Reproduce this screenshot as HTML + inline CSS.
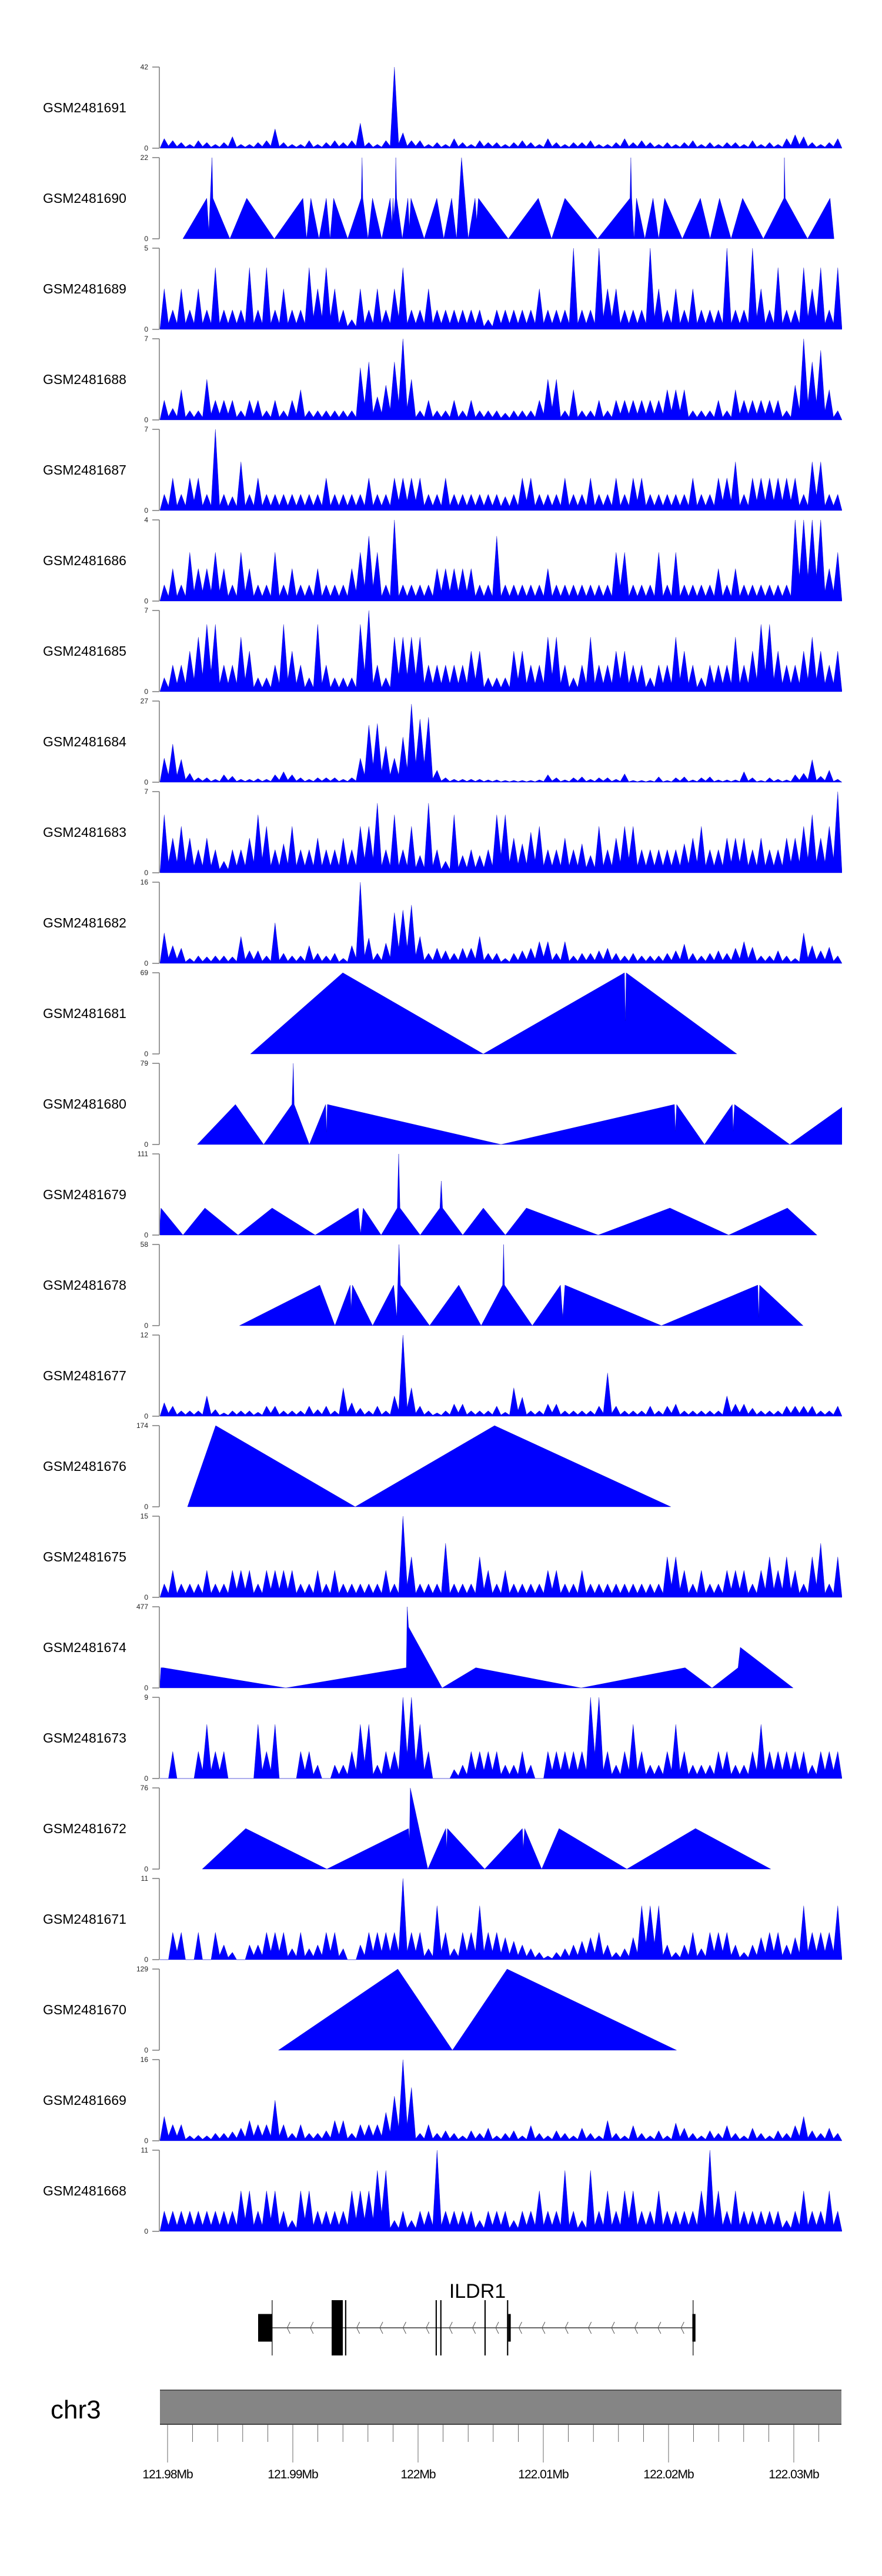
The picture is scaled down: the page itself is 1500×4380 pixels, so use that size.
<!DOCTYPE html>
<html><head><meta charset="utf-8"><title>ILDR1 coverage tracks</title>
<style>
html,body{margin:0;padding:0;background:#fff;}
svg{display:block;font-family:"Liberation Sans",Arial,sans-serif;}
</style></head>
<body>
<svg id="chart" xmlns="http://www.w3.org/2000/svg" width="1500" height="4380" viewBox="0 0 1500 4380">
<rect x="0" y="0" width="1500" height="4380" fill="#fff"/>
<g id="tracks"></g>
<g id="gene"></g>
<g id="ideo"></g>
</svg>
<script>
// ---- genomic domain (kb relative to 121.98 Mb) ----
const domainKb = [-0.61, 53.85];
const nBins = 80;

// ---- sample names & y maxima ----
const sampleNames = ["GSM2481691","GSM2481690","GSM2481689","GSM2481688","GSM2481687","GSM2481686","GSM2481685","GSM2481684","GSM2481683","GSM2481682","GSM2481681","GSM2481680","GSM2481679","GSM2481678","GSM2481677","GSM2481676","GSM2481675","GSM2481674","GSM2481673","GSM2481672","GSM2481671","GSM2481670","GSM2481669","GSM2481668"];
const yMax = [42,22,5,7,7,4,7,27,7,16,69,79,111,58,12,174,15,477,9,76,11,129,16,11];

// ---- binned coverage (80 bins) ----
const bins691 = [5,4,3,2,4,3,2,3,6,2, 2,3,4,10,3,2,2,4,2,3, 4,3,4,13,3,2,4,42,8,4, 4,2,3,2,5,3,2,4,3,3, 2,3,4,3,2,5,3,2,3,3, 4,2,2,3,5,3,4,3,2,3, 2,3,4,2,3,2,3,3,2,4, 2,3,2,5,7,6,3,2,3,5];
const bins689 = [2.5,1.2,2.5,1.2,2.5,1.2,3.8,1.2,1.2,1.2, 3.8,1.2,3.8,1.2,2.5,1.2,1.2,3.8,2.5,3.8, 2.5,1.2,0.6,2.5,1.2,2.5,1.2,2.5,3.8,1.2, 1.2,2.5,1.2,1.2,1.2,1.2,1.2,1.2,0.6,1.2, 1.2,1.2,1.2,1.2,2.5,1.2,1.2,1.2,5,1.2, 1.2,5,2.5,2.5,1.2,1.2,1.2,5,2.5,1.2, 2.5,1.2,2.5,1.2,1.2,1.2,5,1.2,1.2,5, 2.5,1.2,3.8,1.2,1.2,3.8,2.5,3.8,1.2,3.8];
const bins688 = [1.7,1,2.6,0.8,0.8,3.5,1.7,1.7,1.7,0.8, 1.7,1.7,0.8,1.7,0.8,1.7,2.6,0.8,0.8,0.8, 0.8,0.8,0.8,4.5,5,2,3,5,7,3.5, 0.8,1.7,0.8,0.8,1.7,0.8,1.7,0.8,0.8,0.8, 0.6,0.8,0.8,0.8,1.7,3.5,3.5,0.8,2.6,0.8, 0.8,1.7,0.8,1.7,1.7,1.7,1.7,1.7,1.7,2.6, 2.6,2.6,0.8,0.8,0.8,1.7,0.8,2.6,1.7,1.7, 1.7,1.7,1.7,0.8,3,7,5,6,2.6,0.8];
const bins687 = [1.4,2.8,1.4,2.8,2.8,1.4,7,1.4,1.2,4.2, 1.4,2.8,1.4,1.4,1.4,1.4,1.4,1.4,1.4,2.8, 1.4,1.4,1.4,1.4,2.8,1.4,1.4,2.8,2.8,2.8, 2.8,1.4,1.4,2.8,1.4,1.4,1.4,1.4,1.4,1.4, 1.2,1.4,2.8,2.8,1.4,1.4,1.4,2.8,1.4,1.4, 2.8,1.4,1.4,2.8,1.4,2.8,2.8,1.4,1.4,1.4, 1.4,1.4,2.8,1.4,1.4,2.8,2.8,4.2,1.4,2.8, 2.8,2.8,2.8,2.8,2.8,1.4,4.2,4.2,1.4,1.4];
const bins686 = [0.8,1.6,0.8,2.4,1.6,1.6,2.4,1.6,0.8,2.4, 1.6,0.8,0.8,2.4,0.8,1.6,0.8,0.8,1.6,0.8, 0.8,0.8,1.6,2.4,3.2,2.4,0.8,4,0.8,0.8, 0.8,0.8,1.6,1.6,1.6,1.6,1.6,0.8,0.8,3.2, 0.8,0.8,0.8,0.8,0.8,1.6,0.8,0.8,0.8,0.8, 0.8,0.8,0.8,2.4,2.4,0.8,0.8,0.8,2.4,0.8, 2.4,0.8,0.8,0.8,0.8,1.6,0.8,1.6,0.8,0.8, 0.8,0.8,0.8,0.8,4,4,4,4,1.6,2.4];
const bins685 = [1.2,2.3,2.3,3.5,4.7,5.8,5.8,2.3,2.3,4.7, 3.5,1.2,1.2,2.3,5.8,3.5,2.3,1.2,5.8,2.3, 1.2,1.2,1.2,5.8,7,2.3,1.2,4.7,4.7,4.7, 4.7,2.3,2.3,2.3,2.3,2.3,3.5,3.5,1.2,1.2, 1.2,3.5,3.5,2.3,2.3,4.7,4.7,2.3,1.2,2.3, 4.7,2.3,2.3,3.5,3.5,2.3,2.3,1.2,2.3,2.3, 4.7,3.5,2.3,1.2,2.3,2.3,2.3,4.7,2.3,3.5, 5.8,5.8,3.5,2.3,2.3,3.5,4.7,3.5,2.3,3.5];
const bins684 = [8,12.7,7.6,3,1.5,1.5,1,2.5,2,1, 1,1.2,1,2.5,3.5,2.5,1.5,1,1.5,1.5, 1.5,1,1.5,8,19,19.5,12,8,15,26, 21,21.6,4,1.5,1,1,1,1,0.8,0.8, 0.6,0.6,0.6,0.6,0.8,2.5,1.5,0.8,1.5,1.8, 1,1.5,1.5,1,2.8,0.6,0.6,0.6,1.8,0.6, 1.5,1.8,0.8,1.5,1.8,0.8,0.8,0.8,3.5,1.5, 0.6,1.5,1,0.8,2.5,3,7.5,2,4,1];
const bins683 = [5,3,4,3,2,3,2,1,2,2, 3,5,4,2,2.5,4,2,2,3,2, 2,3,2,4,4,6,2,5,2,4, 1.5,6,2,1,5,1.5,2,1.5,2,5, 5,3,2.5,3.5,4,2,2,3,2,2.5, 1.5,4,2,3,4,4,2,2,2,2, 2,2.5,3,4,2,2,3,3,3,2, 3,2,2,3,3,4,5,3,4,7];
const bins682 = [6,3.5,3,1,1.5,1.3,1.5,1.5,1.3,5.3, 2.5,2.5,1.5,8,2,1.5,1.5,3.5,2,1.5, 2,1,3.5,16,5,2,4,10,10.5,11.5, 5.3,2,3,2.5,2,3,3,5.3,2,2, 1,2,2.5,3,4.3,4.3,2,4.3,1.5,2, 2,2.5,3,2,1.5,2,1.5,1.5,1.5,2, 2.5,3.8,2,1.5,2,2.5,2,3,4.3,3.2, 1.5,1.5,2.5,1.5,1,6,3.5,2.5,3.2,1.5];
const bins677 = [2,1.5,0.8,0.8,0.8,3,1,0.5,0.8,0.8, 0.8,0.6,1.5,1.5,0.8,0.8,0.8,1.5,1,1.5, 0.8,4.2,2,1.2,0.8,1.5,0.8,3,12,4.2, 1.5,0.8,0.5,0.8,1.8,1.8,0.8,0.8,0.8,1.5, 0.6,4.2,2.8,0.8,0.8,1.8,1.8,0.8,0.8,0.8, 0.8,1.5,6.4,1.5,0.8,0.8,0.8,1.5,0.8,1.5, 1.8,0.8,0.8,0.8,0.8,0.8,3,1.8,1.8,1.2, 0.8,0.8,0.8,1.5,1.5,1.5,1.5,0.8,0.8,1.5];
const bins675 = [2.5,5,2.5,2.5,2.5,5,2.5,2.5,5,5, 5,2.5,5,5,5,5,2.5,2.5,5,2.5, 5,2.5,2.5,2.5,2.5,2.5,5,2.5,15,7.5, 2.5,2.5,2.5,10,2.5,2.5,2.5,7.5,5,2.5, 5,2.5,2.5,2.5,2.5,5,5,2.5,2.5,5, 2.5,2.5,2.5,2.5,2.5,2.5,2.5,2.5,2.5,7.5, 7.5,5,2.5,5,2.5,2.5,5,5,5,2.5, 5,7.5,5,7.5,5,2.5,7.5,10,2.5,7.5];
const bins673 = [0,3,0,0,3,6,3,3,0,0, 0,6,3,6,0,0,3,3,1.5,0, 1.5,1.5,3,6,6,1.5,3,3,9,9, 6,3,0,0,1,1.5,3,3,3,3, 1.5,1.5,3,1.5,0,3,3,3,3,3, 9,9,3,1.5,3,6,3,1.5,1.5,3, 6,3,1.5,1.5,1.5,3,3,1.5,1.5,3, 6,3,3,3,3,3,1.5,3,3,3];
const bins671 = [0,3.7,3.7,0,3.7,0,3.7,2,1,0, 2,2,3.7,3.7,3.7,1.5,3.7,1.5,2,3.7, 3.7,1.5,0,2,3.7,3.7,3.7,3.7,11,3.7, 3.7,1.5,7.3,3.7,1.5,3.7,3.7,7.3,3.7,3.7, 3,2.5,2,1.5,1,0.5,1,1.5,2,2.5, 3,3.7,2,1,1.5,3,7.3,7.3,7.3,2, 1,2,3.7,1.5,3.7,3.7,3.7,2,1,2, 3,3.7,3.7,2,3,7.3,3.7,3.7,3.7,7.3];
const bins669 = [4.8,3.2,3.2,1,1.1,1,1.5,1.5,1.8,2.5, 4,3.2,3.2,8,3.2,1.5,3.2,1.5,1.5,2, 4,4,1.5,3.2,3.2,3.2,5.6,8.8,16,10.5, 1.5,3.2,1.5,2,1.5,1,2,1.5,2.5,1, 1.5,2,1,3,1.5,1,2,1.5,1,2.5, 1.5,1,4,1.5,1,3,1.5,1,2,1, 3.5,2.5,1.5,1,2,1.5,3,1.5,1,2.5, 1.5,1,2,1.5,3,4.8,2,1.5,2.5,1.5];
const bins668 = [2.75,2.75,2.75,2.75,2.75,2.75,2.75,2.75,2.75,5.5, 5.5,2.75,5.5,5.5,2.75,1.5,5.5,5.5,2.75,2.75, 2.75,2.75,5.5,5.5,5.5,8.25,8.25,1.5,2.75,1.5, 2.75,2.75,11,2.75,2.75,2.75,2.75,1.5,2.75,2.75, 2.75,1.5,2.75,2.75,5.5,2.75,2.75,8.25,2.75,1.5, 8.25,2.75,5.5,2.75,5.5,5.5,2.75,2.75,5.5,2.75, 2.75,2.75,2.75,5.5,11,5.5,2.75,5.5,2.75,2.75, 2.75,2.75,2.75,1.5,2.75,5.5,2.75,2.75,5.5,2.75];

// ---- vertex coverage (positions in kb, values) ----
const pos690 = [1.22,3.13,3.29,3.55,3.62,4.97,6.32,8.52,10.81,11.1,11.44,12.09,12.67,12.97,13.26,14.38,15.46,15.53,15.59,16,16.36,17.1,17.77,17.91,18,18.06,18.18,18.22,18.29,18.74,19.19,19.3,19.43,20.49,21.5,22.05,22.68,23.07,23.47,24.01,24.55,24.68,24.82,27.2,29.6,30.66,31.73,34.34,36.92,36.99,37.06,37.24,37.44,38.11,38.76,39.21,39.69,41.1,42.54,43.32,44.07,44.99,45.91,47.57,49.21,49.25,49.32,51.1,52.89,53.21];
const val690 = [0,11,2,22,11,0,11,0,11,0,11,0,11,0,11,0,11,22,11,0,11,0,11,4,11,6,11,22,11,0,11,3,11,0,11,0,11,0,22,0,11,5,11,0,11,0,11,0,11,22,11,0,11,0,11,0,11,0,11,0,11,0,11,0,11,22,11,0,11,0];
const pos681 = [6.62,13.99,25.21,36.48,36.55,36.62,45.45];
const val681 = [0,69,0,69,28,69,0];
const pos680 = [2.37,5.42,7.67,9.93,10.04,10.11,11.32,12.62,12.69,12.76,26.62,40.47,40.54,40.65,42.87,45.09,45.16,45.27,49.68,54.15];
const val680 = [0,39,0,39,79,39,0,39,12,39,0,39,13,39,0,39,13,39,0,39];
const pos679 = [-0.67,-0.53,1.23,2.98,5.63,8.35,11.79,15.23,15.41,15.62,17.05,18.34,18.45,18.56,20.17,21.74,21.85,21.96,23.57,25.21,26.97,28.65,34.38,40.11,44.8,49.49,51.85];
const val679 = [0,37,0,37,0,37,0,37,2,37,0,37,111,37,0,37,74,37,0,37,0,37,0,37,0,37,0];
const pos678 = [5.74,12.15,13.36,14.58,14.65,14.76,16.37,18.05,18.3,18.48,18.59,20.92,23.25,25.04,26.75,26.83,26.9,29.12,31.37,31.55,31.73,39.43,47.12,47.2,47.27,50.74];
const val678 = [0,29,0,29,12,29,0,29,6,58,29,0,29,0,29,58,29,0,29,6,29,0,29,6,29,0];
const pos676 = [1.59,3.84,14.98,26.11,40.18];
const val676 = [0,174,0,174,0];
const pos674 = [-0.63,-0.53,-0.35,9.43,19.06,19.13,19.24,21.92,24.61,33.02,41.32,43.47,45.55,45.73,49.95];
const val674 = [0,119,119,0,119,477,358,0,119,0,119,0,119,239,0];
const pos672 = [2.77,6.24,12.72,19.24,19.31,19.38,20.78,22.21,22.28,22.35,25.32,28.33,28.4,28.51,29.87,31.26,36.67,42.15,48.16];
const val672 = [0,38,0,38,27,76,0,38,19,38,0,38,19,38,0,38,0,38,0];
const pos670 = [8.85,18.38,22.74,27.11,40.64];
const val670 = [0,129,0,129,0];

// ---- per-track data lookup ----
const trackBins = {0:bins691,2:bins689,3:bins688,4:bins687,5:bins686,6:bins685,7:bins684,8:bins683,9:bins682,14:bins677,16:bins675,18:bins673,20:bins671,22:bins669,23:bins668};
const trackPos = {1:pos690,10:pos681,11:pos680,12:pos679,13:pos678,15:pos676,17:pos674,19:pos672,21:pos670};
const trackVal = {1:val690,10:val681,11:val680,12:val679,13:val678,15:val676,17:val674,19:val672,21:val670};

// ---- gene model (kb) ----
const geneName = "ILDR1";
const geneSpanKb = [8.35, 41.96];
const exonsKb = [[7.23,8.35,"utr"],[13.1,13.99,"cds"],[14.17,14.27,"cds"],[21.4,21.5,"cds"],[21.77,21.87,"cds"],[25.3,25.4,"cds"],[27.1,27.2,"cds"],[27.2,27.4,"utr"],[41.9,42.15,"utr"]];
const chromName = "chr3";
const majorTickLabels = ["121.98Mb","121.99Mb","122Mb","122.01Mb","122.02Mb","122.03Mb"];
const majorTickKb = [0,10,20,30,40,50];

// ---- layout ----
const NS = "http://www.w3.org/2000/svg";
const plotX0 = 272, plotX1 = 1432;
const trackTop0 = 114, trackPitch = 154, trackH = 138;
function xs(kb){ return plotX0 + (kb - domainKb[0]) / (domainKb[1]-domainKb[0]) * (plotX1-plotX0); }
function mk(tag, attrs, parent){ const e=document.createElementNS(NS,tag); for(const k in attrs) e.setAttribute(k,attrs[k]); if(parent) parent.appendChild(e); return e; }

const svg = document.getElementById("chart");
const defs = mk("defs",{},svg);
const clip = mk("clipPath",{id:"plotclip"},defs);
mk("rect",{x:plotX0,y:0,width:plotX1-plotX0,height:4380},clip);

const tracksG = document.getElementById("tracks");
sampleNames.forEach((name,i)=>{
  const top = trackTop0 + i*trackPitch, base = top + trackH;
  const ys = v => base - v / yMax[i] * trackH;
  const g = mk("g",{},tracksG);
  
  
  const lab = mk("text",{x:73,y:top+trackH/2+8,"font-size":23,fill:"#000"},g);
  lab.textContent = name;
  
  
  const ax = mk("g",{stroke:"#808080","stroke-width":1.6,fill:"none"},g);
  
  
  mk("line",{x1:271,y1:top,x2:271,y2:base},ax);
  mk("line",{x1:259,y1:top,x2:271,y2:top},ax);
  mk("line",{x1:259,y1:base,x2:271,y2:base},ax);
  const tTop = mk("text",{x:252,y:top+4,"font-size":12,"text-anchor":"end",fill:"#222"},g);
  tTop.textContent = String(yMax[i]);
  
  
  const tZero = mk("text",{x:252,y:base+4,"font-size":12,"text-anchor":"end",fill:"#222"},g);
  tZero.textContent = "0";
  
  

  let pts = [];
  if (trackBins[i]) {
    const b = trackBins[i];
    const w = (domainKb[1]-domainKb[0]) / nBins;
    pts.push([xs(domainKb[0]), base]);
    for (let k=0;k<b.length;k++){
      const l = domainKb[0]+k*w;
      const prev = k>0 ? Math.min(b[k-1],b[k])*0.3 : 0;
      pts.push([xs(l), ys(prev)]);
      pts.push([xs(l+w/2), ys(b[k])]);
    }
    pts.push([xs(domainKb[0]+b.length*w), base]);
  } else {
    const p = trackPos[i], v = trackVal[i];
    pts.push([xs(p[0]), base]);
    for (let k=0;k<p.length;k++) pts.push([xs(p[k]), ys(v[k])]);
    pts.push([xs(p[p.length-1]), base]);
  }
  const poly = mk("polygon",{points:pts.map(q=>q[0].toFixed(1)+","+q[1].toFixed(1)).join(" "),fill:"#0000ff",stroke:"#0000c8","stroke-width":0.4,"clip-path":"url(#plotclip)"},g);
  
  
});

// ---- gene model ----
const geneG = document.getElementById("gene");
const gy = 3958;
const gl = mk("text",{x:812,y:3907,"font-size":34,"text-anchor":"middle",fill:"#000"},geneG);
gl.textContent = geneName;


const intron = mk("line",{x1:xs(geneSpanKb[0]),y1:gy,x2:xs(geneSpanKb[1]),y2:gy,stroke:"#333","stroke-width":1.5},geneG);


for (let kb=geneSpanKb[0]+1.2; kb<geneSpanKb[1]; kb+=1.85){
  const x = xs(kb);
  const c = mk("polyline",{points:`${x+5},${gy-10} ${x},${gy} ${x+5},${gy+10}`,fill:"none",stroke:"#555","stroke-width":1},geneG);
  
  
}
exonsKb.forEach(e=>{
  const x0 = xs(e[0]), x1 = xs(e[1]);
  const h = e[2]==="utr" ? 47 : 94;
  const r = mk("rect",{x:x0,y:gy-h/2,width:Math.max(2,x1-x0),height:h,fill:"#000"},geneG);
  
  
});
[8.35,41.96].forEach(kb=>{
  const l = mk("line",{x1:xs(kb),y1:gy-47,x2:xs(kb),y2:gy+47,stroke:"#000","stroke-width":1.2},geneG);
  
  
});

// ---- chromosome ideogram axis ----
const ideoG = document.getElementById("ideo");
const ct = mk("text",{x:86,y:4112,"font-size":44,fill:"#000"},ideoG);
ct.textContent = chromName;


const bar = mk("rect",{x:272,y:4064,width:1159,height:58,fill:"#858585"},ideoG);


mk("line",{x1:272,y1:4064,x2:1431,y2:4064,stroke:"#555","stroke-width":2},ideoG);
mk("line",{x1:272,y1:4122,x2:1431,y2:4122,stroke:"#444","stroke-width":2},ideoG);
for (let kb=0; kb<=52.01; kb+=2){
  const major = Math.abs(kb/10 - Math.round(kb/10))<1e-6;
  const t = mk("line",{x1:xs(kb),y1:4123,x2:xs(kb),y2:major?4187:4152,stroke:"#444","stroke-width":0.8},ideoG);
  
  
}
majorTickKb.forEach((kb,j)=>{
  const t = mk("text",{x:xs(kb),y:4214,"font-size":21,"text-anchor":"middle",fill:"#000","letter-spacing":"-1"},ideoG);
  t.textContent = majorTickLabels[j];
  
  
});
</script>
</body></html>
